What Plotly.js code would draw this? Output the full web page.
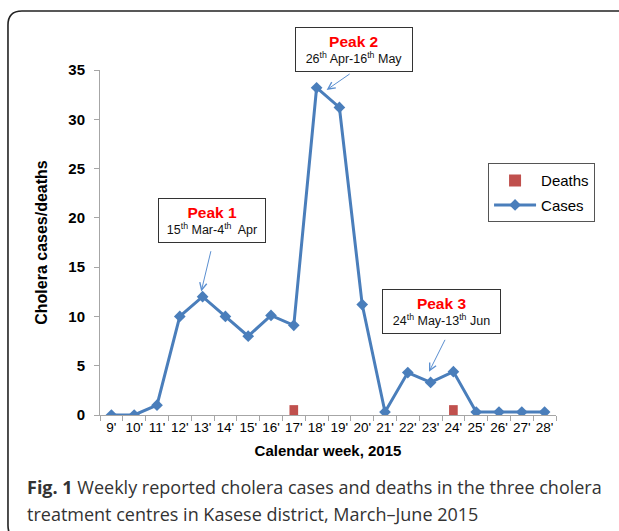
<!DOCTYPE html>
<html><head><meta charset="utf-8">
<script src="https://cdn.plot.ly/plotly-3.0.1.min.js"></script>
<style>html,body{margin:0;padding:0;background:#fff}#chart{width:619px;height:531px}</style>
</head><body><div id="chart"></div>
<script>
// ---- data ----
const weeks = ["9'","10'","11'","12'","13'","14'","15'","16'","17'","18'","19'","20'","21'","22'","23'","24'","25'","26'","27'","28'"];
const cases = [0,0,1,10,12,10,8,10.1,9.1,33.2,31.2,11.2,0.3,4.3,3.3,4.4,0.3,0.3,0.3,0.3];
const deaths = [0,0,0,0,0,0,0,0,1,0,0,0,0,0,0,1,0,0,0,0];
const peakNames = ["Peak 1","Peak 2","Peak 3"];
const peakDates = ["15<sup>th</sup> Mar-4<sup>th</sup>  Apr","26<sup>th</sup> Apr-16<sup>th</sup> May","24<sup>th</sup> May-13<sup>th</sup> Jun"];
const captionBold = "Fig. 1";
const captionLine1 = " Weekly reported cholera cases and deaths in the three cholera";
const captionLine2 = "treatment centres in Kasese district, March\u2013June 2015";

// ---- layout helpers (positions) ----
const boxPos = [ {x:0.2456,y:0.5644,w:104,h:41}, {x:0.5564,y:1.0593,w:114,h:41}, {x:0.7489,y:0.3001,w:115,h:41} ];
const arrowPos = [ {x:3.94,y:12.54,ax:11.7,ay:-48.7}, {x:9.44,y:32.98,ax:26,ay:-18}, {x:13.93,y:4.38,ax:19,ay:-38} ];

const F = "Liberation Sans, Arial, sans-serif";

const traces = [
  {type:'bar', name:'Deaths', x:weeks, y:deaths, width:0.38, marker:{color:'#c0504d'}, hoverinfo:'skip', legendgroup:'d'},
  {type:'scatter', mode:'lines+markers', name:'Cases', x:weeks, y:cases, legendgroup:'c',
   line:{color:'#4a7ebb', width:3}, marker:{symbol:'diamond', size:9, color:'#4a7ebb'}}
];

const annotations = [];
peakNames.forEach((n,i)=>{
  const b = boxPos[i];
  annotations.push({xref:'paper', yref:'paper', x:b.x, y:b.y, xanchor:'center', yanchor:'middle',
    showarrow:false, width:b.w, height:b.h, align:'center', valign:'middle',
    bgcolor:'#ffffff', bordercolor:'#333333', borderwidth:1, borderpad:1,
    text:'<span style="color:#ff0000;font-size:15.5px"><b>'+n+'</b></span><br>'+peakDates[i],
    font:{family:F, size:12.5, color:'#111111'}});
  const a = arrowPos[i];
  annotations.push({xref:'x', yref:'y', x:a.x, y:a.y, ax:a.ax, ay:a.ay, text:' ', showarrow:true,
    arrowhead:5, arrowsize:1.4, arrowwidth:1, arrowcolor:'#5b8fd0'});
});
annotations.push({xref:'paper', yref:'paper', x:-0.1645, y:-0.21, xanchor:'left', yanchor:'middle', showarrow:false,
  text:'<b>'+captionBold+'</b>'+captionLine1, font:{family:'Open Sans, sans-serif', size:18, color:'#333333'}});
annotations.push({xref:'paper', yref:'paper', x:-0.1645, y:-0.288, xanchor:'left', yanchor:'middle', showarrow:false,
  text:captionLine2, font:{family:'Open Sans, sans-serif', size:18, color:'#333333'}});

const layout = {
  width:619, height:531,
  margin:{l:100, r:63, t:70, b:116},
  paper_bgcolor:'#ffffff', plot_bgcolor:'#ffffff',
  font:{family:F, color:'#000000'},
  showlegend:true,
  legend:{x:0.851, y:0.73, xanchor:'left', yanchor:'top', bgcolor:'#ffffff', bordercolor:'#555555', borderwidth:1,
    font:{family:F, size:15, color:'#000000'}, traceorder:'grouped', tracegroupgap:2, itemwidth:42},
  xaxis:{type:'category', range:[-0.5,19.5], showline:true, linecolor:'#a6a6a6', linewidth:1,
    ticks:'outside', tickson:'boundaries', ticklen:5, tickcolor:'#a6a6a6', tickangle:0,
    tickfont:{family:F, size:13.5, color:'#000000'}, showgrid:false, zeroline:false, fixedrange:true,
    title:{text:'Calendar week, 2015', standoff:11, font:{family:F, size:15, weight:'bold', color:'#000000'}}},
  yaxis:{range:[0,35], dtick:5, showline:true, linecolor:'#a6a6a6', linewidth:1,
    ticks:'outside', ticklen:5, tickcolor:'#a6a6a6', ticklabelstandoff:6,
    tickfont:{family:F, size:15, weight:'bold', color:'#000000'}, showgrid:false, zeroline:false, fixedrange:true,
    title:{text:'Cholera cases/deaths', standoff:16, font:{family:F, size:16, weight:'bold', color:'#000000'}}},
  annotations:annotations,
  shapes:[{type:'path', xref:'paper', yref:'paper', layer:'above',
    path:'M 1.1404,1.1708 L -0.1711,1.1708 Q -0.2018,1.1708 -0.2018,1.1302 L -0.2018,-0.3205 Q -0.2018,-0.3603 -0.1711,-0.3603',
    line:{color:'#222222', width:1.6}}]
};

Plotly.newPlot('chart', traces, layout, {displayModeBar:false, staticPlot:true});
</script></body></html>
